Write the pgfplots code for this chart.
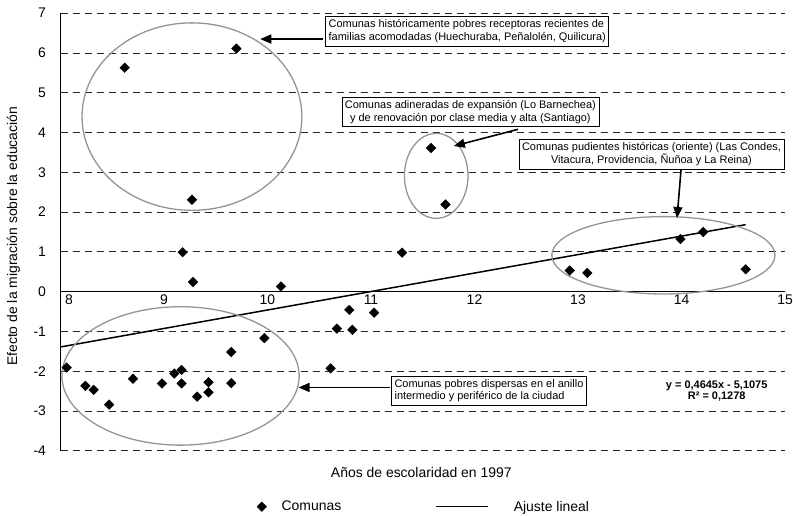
\documentclass[border=0pt]{standalone}
\usepackage{pgfplots}
\pgfplotsset{compat=1.18}
\usepackage{fontspec}
\setmainfont{Liberation Sans}
\usetikzlibrary{arrows.meta}
\pgfplotsset{
  legscatter/.style={legend image code/.code={\draw[##1] plot coordinates {(0bp,0bp)};}},
  legline/.style={legend image code/.code={\draw[##1] (0bp,0bp) -- (52bp,0bp);}},
}
\begin{document}
\begin{tikzpicture}
\path[use as bounding box] (0,0) rectangle (793bp,516bp);
\begin{axis}[
  at={(60.5bp,65.3bp)}, anchor=south west,
  scale only axis, width=724.5bp, height=437.5bp,
  xmin=8, xmax=15, ymin=-4, ymax=7,
  axis x line=middle, axis y line=left,
  axis line style={-, black, line width=0.9bp},
  xtick={8,...,15}, ytick={-4,...,7},
  xticklabels={\hspace{17bp}8,9,10,11,12,13,14,15},
  major tick length=0pt,
  hide obscured x ticks=false, hide obscured y ticks=false,
  /pgf/number format/assume math mode=true,
  ymajorgrids,
  grid style={black!85, line width=0.8bp, dash pattern=on 7.5bp off 4.5bp},
  ticklabel style={font=\fontsize{14}{16}\selectfont},
  yticklabel style={xshift=-11bp},
  xlabel={Años de escolaridad en 1997},
  ylabel={Efecto de la migración sobre la educación},
  label style={font=\fontsize{14}{16}\selectfont},
  xlabel style={at={(axis description cs:0.498,-0.051)}, anchor=center},
  ylabel style={at={(axis description cs:-0.0651,0.49)}, anchor=center},
  legend style={draw=none, fill=none, at={(axis description cs:0.271,-0.128)}, anchor=west,
    font=\fontsize{14}{16}\selectfont, inner sep=0pt,
    /tikz/every odd column/.append style={column sep=13bp},
    /tikz/every even column/.append style={column sep=92bp}},
  legend columns=2, legend cell align=left,
  clip=false,
]
\addplot[only marks, mark=square*, mark size=3.4bp, mark options={rotate=45, fill=black, draw=black},
  legscatter]
table {
x y
8.62 5.63
9.70 6.11
9.27 2.31
9.18 0.99
9.28 0.24
10.13 0.13
8.06 -1.91
8.24 -2.37
8.32 -2.47
8.47 -2.84
8.70 -2.19
8.98 -2.31
9.10 -2.06
9.17 -1.97
9.17 -2.31
9.32 -2.64
9.43 -2.28
9.43 -2.53
9.65 -1.52
9.65 -2.30
9.97 -1.17
10.61 -1.93
10.67 -0.93
10.79 -0.46
10.82 -0.96
11.03 -0.53
11.30 0.98
11.58 3.61
11.72 2.19
12.92 0.53
13.09 0.47
13.99 1.32
14.21 1.50
14.62 0.56
};
\addlegendentry{Comunas}
\addplot[black, line width=1.5bp, legline]
coordinates {(8,-1.3915) (14.62,1.6835)};
\addlegendentry{\hspace{10bp}Ajuste lineal}

% ellipses
\draw[black!42, line width=1.3bp] (axis cs:9.27,4.40) ellipse [x radius=1.062, y radius=2.357];
\draw[black!42, line width=1.3bp] (axis cs:9.16,-2.12) ellipse [x radius=1.146, y radius=1.740];
\draw[black!42, line width=1.3bp] (axis cs:11.63,2.91) ellipse [x radius=0.307, y radius=1.069];
\draw[black!42, line width=1.3bp] (axis cs:13.825,0.913) ellipse [x radius=1.078, y radius=0.973];

% arrows
\draw[black, line width=1.6bp, -{Triangle[length=11bp,width=9bp]}] (axis cs:10.54,6.35) -- (axis cs:9.93,6.35);
\draw[black, line width=1.6bp, -{Triangle[length=11bp,width=9bp]}] (axis cs:12.42,4.08) -- (axis cs:11.80,3.66);
\draw[black, line width=1.6bp, -{Triangle[length=11bp,width=9bp]}] (axis cs:13.996,3.08) -- (axis cs:13.957,1.85);
\draw[black, line width=1.6bp, -{Triangle[length=11bp,width=9bp]}] (axis cs:11.186,-2.41) -- (axis cs:10.30,-2.41);

% boxes
\node[draw=black, fill=white, line width=0.7bp, align=left, inner sep=3bp,
  font=\fontsize{11}{13}\selectfont] at (axis cs:11.93,6.54)
  {Comunas históricamente pobres receptoras recientes de\\familias acomodadas (Huechuraba, Peñalolén, Quilicura)};
\node[draw=black, fill=white, line width=0.7bp, align=center, inner sep=3bp,
  font=\fontsize{11}{13}\selectfont] at (axis cs:11.96,4.52)
  {Comunas adineradas de expansión (Lo Barnechea)\\y de renovación por clase media y alta (Santiago)};
\node[draw=black, fill=white, line width=0.7bp, align=center, inner sep=3bp,
  font=\fontsize{11}{13}\selectfont] at (axis cs:13.71,3.45)
  {Comunas pudientes históricas (oriente) (Las Condes,\\Vitacura, Providencia, Ñuñoa y La Reina)};
\node[draw=black, fill=white, line width=0.7bp, align=left, inner sep=3bp,
  font=\fontsize{11}{13}\selectfont] at (axis cs:12.14,-2.49)
  {Comunas pobres dispersas en el anillo\\intermedio y periférico de la ciudad};

\node[align=center, font=\bfseries\fontsize{11}{11.5}\selectfont] at (axis cs:14.34,-2.50)
  {y = 0,4645x - 5,1075\\R² = 0,1278};
\end{axis}
\end{tikzpicture}
\end{document}
